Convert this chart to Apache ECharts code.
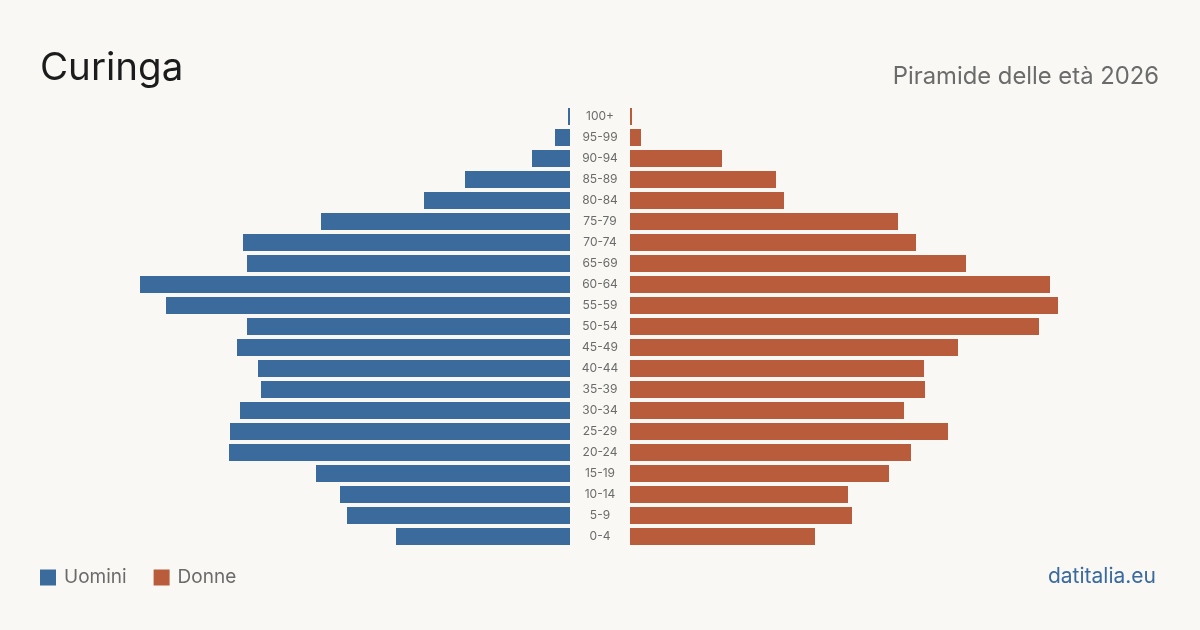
<!DOCTYPE html>
<html>
<head>
<meta charset="utf-8">
<title>Curinga - Piramide delle età 2026</title>
<script src="https://cdn.jsdelivr.net/npm/echarts@6/dist/echarts.min.js"></script>
<style>
	html, body { margin: 0; padding: 0; background: #f9f8f4; }
	#chart { width: 1200px; height: 630px; }
</style>
<script>
	// eta', dal basso verso l'alto
	var ageGroups = ["0-4","5-9","10-14","15-19","20-24","25-29","30-34","35-39","40-44","45-49",
		"50-54","55-59","60-64","65-69","70-74","75-79","80-84","85-89","90-94","95-99","100+"];
	var men   = [174,223,230,254,341,340,330,309,312,333,323,404,430,323,327,249,146,105,38,15,2];
	var women = [185,222,218,259,281,318,274,295,294,328,409,428,420,336,286,268,154,146,92,11,2];
	var maxVal = 430;
</script>
</head>
<body>
<div id="chart"></div>
<script>
	var myChart = echarts.init(document.getElementById('chart'));
	var font = 'Inter, "Noto Sans", sans-serif';
	var option = {
		backgroundColor: '#f9f8f4',
		textStyle: { fontFamily: font },
		title: [
			{ text: 'Curinga', left: 35, top: 44,
			  textStyle: { fontSize: 38.5, fontWeight: 'normal', color: '#1c1c1c', fontFamily: font } },
			{ text: 'Piramide delle età 2026', right: 36, top: 60,
			  textStyle: { fontSize: 23.8, fontWeight: 'normal', color: '#6b6b6b', fontFamily: font } }
		],
		legend: {
			left: 35, top: 563,
			itemWidth: 16, itemHeight: 16, itemGap: 27,
			icon: 'rect',
			textStyle: { fontSize: 19, color: '#6b6b6b', fontFamily: font, padding: [0, 0, 0, 3] },
			data: ['Uomini', 'Donne']
		},
		graphic: [
			{ type: 'text', right: 44, top: 566,
			  style: { text: 'datitalia.eu', fontSize: 21, fill: '#3a6a9e', fontFamily: font } }
		],
		grid: [
			{ left: 140, width: 430, top: 106, height: 441 },
			{ left: 630, width: 430, top: 106, height: 441 }
		],
		xAxis: [
			{ gridIndex: 0, type: 'value', inverse: true, min: 0, max: maxVal, show: false },
			{ gridIndex: 1, type: 'value', min: 0, max: maxVal, show: false }
		],
		yAxis: [
			{ gridIndex: 0, type: 'category', data: ageGroups, position: 'right',
			  axisLine: { show: false }, axisTick: { show: false },
			  axisLabel: { align: 'center', margin: 30, fontSize: 12, color: '#6b6b6b', fontFamily: font,
			               padding: [2, 0, 0, 0] } },
			{ gridIndex: 1, type: 'category', data: ageGroups, show: false }
		],
		series: [
			{ name: 'Uomini', type: 'bar', xAxisIndex: 0, yAxisIndex: 0, data: men,
			  barWidth: 17, itemStyle: { color: '#3b6b9c' }, silent: true },
			{ name: 'Donne', type: 'bar', xAxisIndex: 1, yAxisIndex: 1, data: women,
			  barWidth: 17, itemStyle: { color: '#b85c3c' }, silent: true }
		]
	};
	myChart.setOption(option);
</script>
</body>
</html>
